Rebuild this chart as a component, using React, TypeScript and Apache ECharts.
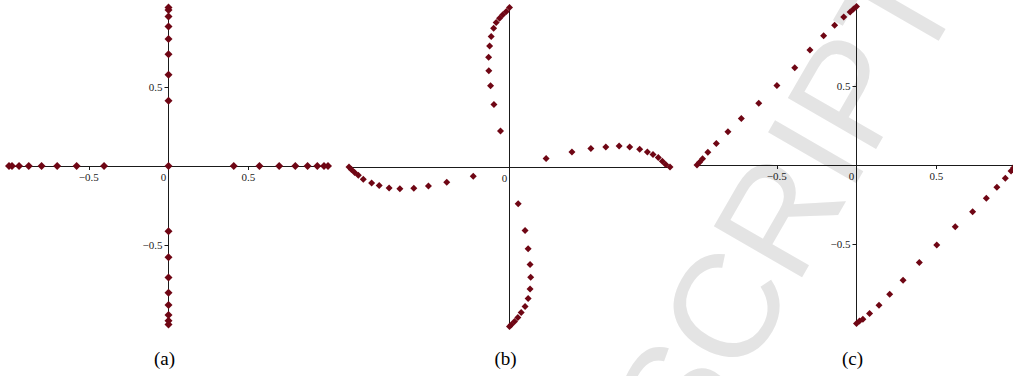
import React, { useEffect, useRef } from "react";
import * as echarts from "echarts";

// ---------- Data ----------
// Panel (a): points on the axes
const aHorizontalX = [-1.0, -0.981, -0.937, -0.876, -0.796, -0.698, -0.576, -0.404, 0, 0.409, 0.57, 0.694, 0.795, 0.872, 0.933, 0.975, 1.0];
const aVerticalY = [1.0, 0.985, 0.943, 0.88, 0.802, 0.705, 0.576, 0.411, -0.411, -0.576, -0.703, -0.8, -0.877, -0.94, -0.977, -1.0];

// Panel (b): four curved branches
const bUpper: number[][] = [
  [0, 1.0], [-0.02, 0.975], [-0.042, 0.954], [-0.062, 0.933], [-0.083, 0.906], [-0.099, 0.87],
  [-0.114, 0.818], [-0.124, 0.759], [-0.13, 0.688], [-0.129, 0.604], [-0.118, 0.509], [-0.097, 0.392], [-0.056, 0.226],
];
const bRight: number[][] = [
  [0.228, 0.053], [0.389, 0.094], [0.507, 0.116], [0.6, 0.126], [0.683, 0.132], [0.749, 0.126], [0.811, 0.111],
  [0.859, 0.094], [0.894, 0.078], [0.927, 0.059], [0.952, 0.036], [0.973, 0.015], [1.0, 0.0],
];
const bLower: number[][] = [
  [0.054, -0.23], [0.097, -0.398], [0.116, -0.513], [0.128, -0.612], [0.132, -0.692], [0.128, -0.765], [0.116, -0.824],
  [0.097, -0.874], [0.073, -0.912], [0.052, -0.943], [0.031, -0.969], [0.011, -0.989], [0, -1.0],
];
const bLeft: number[][] = [
  [-1.0, 0.0], [-0.985, -0.015], [-0.965, -0.035], [-0.942, -0.052], [-0.911, -0.077], [-0.859, -0.1], [-0.812, -0.116],
  [-0.75, -0.131], [-0.683, -0.137], [-0.596, -0.133], [-0.505, -0.119], [-0.391, -0.096], [-0.226, -0.058],
];

// Panel (c): two straight diagonal rows
const cUpper: number[][] = [
  [-1.0, 0.0], [-0.984, 0.018], [-0.965, 0.04], [-0.932, 0.08], [-0.879, 0.135], [-0.806, 0.21], [-0.722, 0.293],
  [-0.613, 0.39], [-0.499, 0.501], [-0.387, 0.614], [-0.292, 0.726], [-0.206, 0.815], [-0.137, 0.882],
  [-0.08, 0.933], [-0.04, 0.965], [-0.019, 0.984], [0, 1.0],
];
const cLower: number[][] = [
  [0, -1.0], [0.019, -0.984], [0.04, -0.973], [0.082, -0.937], [0.141, -0.885], [0.208, -0.815], [0.292, -0.727],
  [0.394, -0.615], [0.503, -0.505], [0.619, -0.39], [0.728, -0.295], [0.814, -0.21], [0.88, -0.141],
  [0.933, -0.084], [0.969, -0.038], [0.985, -0.018], [1.0, 0.0],
];

const captions = ["(a)", "(b)", "(c)"];
const tickValues = [-0.5, 0.5];
const xLabelValues = [-0.5, 0, 0.5];
const watermarkText = "MANUSCRIPT";

// ---------- Styles ----------
const MARK = "#6f0614";
const AXIS = "#1a1a1a";
const LABEL = "#222";
const SERIF = "'Liberation Serif', 'Times New Roman', serif";

const grids = [
  { left: 9, top: 7.5, width: 319, height: 317 },
  { left: 349, top: 7.5, width: 321, height: 319 },
  { left: 697, top: 6.5, width: 319, height: 317 },
];

const fmt = (v: number) => (v < 0 ? "\u2212" + Math.abs(v) : String(v));

function xAxisFor(i: number, withTicks: boolean) {
  return {
    gridIndex: i,
    type: "value",
    position: "bottom",
    offset: -grids[i].height / 2,
    min: -1,
    max: 1,
    interval: 0.5,
    axisLine: { onZero: false, lineStyle: { color: AXIS, width: 1 } },
    axisTick: withTicks
      ? { show: true, customValues: tickValues, length: 4, lineStyle: { color: AXIS } }
      : { show: false },
    axisLabel: {
      customValues: withTicks ? xLabelValues : [0],
      margin: 5,
      fontFamily: SERIF,
      fontSize: 11,
      color: LABEL,
      formatter: (v: number) => (v === 0 ? "{z|0}" : fmt(v)),
      rich: { z: { padding: [0, 10, 0, 0], fontFamily: SERIF, fontSize: 11, color: LABEL } },
    },
    splitLine: { show: false },
  };
}

function yAxisFor(i: number, withTicks: boolean) {
  return {
    gridIndex: i,
    type: "value",
    position: "left",
    offset: -grids[i].width / 2,
    min: -1,
    max: 1,
    interval: 0.5,
    axisLine: { onZero: false, lineStyle: { color: AXIS, width: 1 } },
    axisTick: withTicks
      ? { show: true, customValues: tickValues, length: 4, lineStyle: { color: AXIS } }
      : { show: false },
    axisLabel: withTicks
      ? {
          customValues: tickValues,
          margin: 6,
          fontFamily: SERIF,
          fontSize: 11,
          color: LABEL,
          formatter: (v: number) => fmt(v),
        }
      : { show: false },
    splitLine: { show: false },
  };
}

export default function App() {
  const ref = useRef<HTMLDivElement>(null);

  useEffect(() => {
    if (!ref.current) return;
    const chart = echarts.init(ref.current, undefined, { renderer: "svg" });

    const aData = [
      ...aHorizontalX.map((x) => [x, 0]),
      ...aVerticalY.map((y) => [0, y]),
    ];
    const bData = [...bUpper, ...bRight, ...bLower, ...bLeft];
    const cData = [...cUpper, ...cLower];

    const scatter = (i: number, data: number[][], size: number) => ({
      type: "scatter",
      xAxisIndex: i,
      yAxisIndex: i,
      data,
      symbol: "diamond",
      symbolSize: size,
      itemStyle: { color: MARK, opacity: 1 },
      z: 3,
    });

    const option: any = {
      animation: false,
      backgroundColor: "#ffffff",
      grid: grids.map((g) => ({ ...g, outerBoundsMode: "none", containLabel: false })),
      xAxis: [xAxisFor(0, true), xAxisFor(1, false), xAxisFor(2, true)],
      yAxis: [yAxisFor(0, true), yAxisFor(1, false), yAxisFor(2, true)],
      series: [scatter(0, aData, 8), scatter(1, bData, 7), scatter(2, cData, 7)],
      graphic: [
        {
          type: "text",
          x: 920,
          y: -30,
          rotation: Math.PI / 3,
          z: -10,
          silent: true,
          style: {
            text: watermarkText,
            fontFamily: "'Liberation Sans', Arial, sans-serif",
            fontSize: 148,
            fill: "#e4e4e4",
            textAlign: "right",
            textVerticalAlign: "middle",
          },
        },
        ...captions.map((c, i) => ({
          type: "text",
          x: grids[i].left + grids[i].width / 2 - 4,
          y: 358,
          style: {
            text: c,
            fontFamily: SERIF,
            fontSize: 19,
            fill: "#000",
            textAlign: "center",
            textVerticalAlign: "middle",
          },
        })),
      ],
    };
    chart.setOption(option);
    return () => chart.dispose();
  }, []);

  return (
    <div
      ref={ref}
      style={{ position: "absolute", left: 0, top: 0, width: 1013, height: 376 }}
    />
  );
}
